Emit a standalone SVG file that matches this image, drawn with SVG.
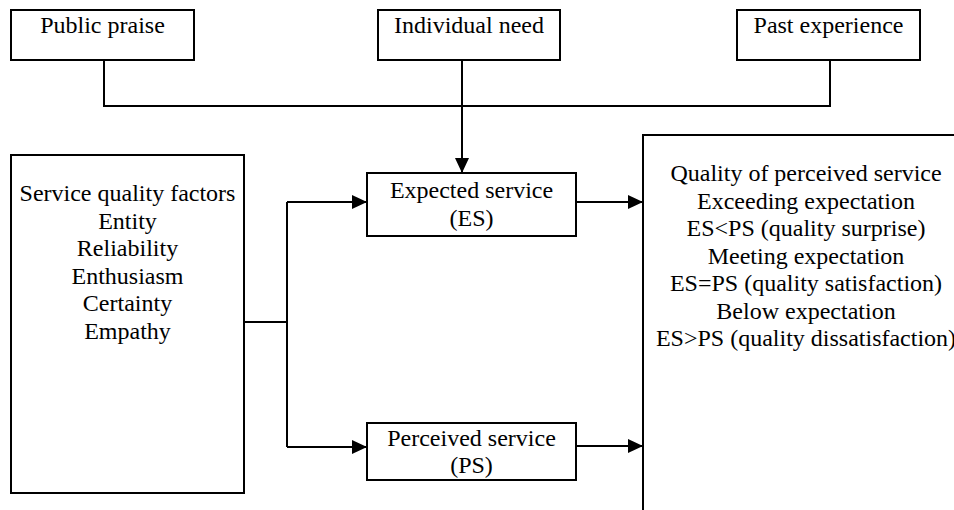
<svg xmlns="http://www.w3.org/2000/svg" width="954" height="510" viewBox="0 0 954 510">
<style>
.box{fill:#fff;stroke:#000;stroke-width:2}
.t{font-family:'Liberation Serif','DejaVu Serif',serif;font-size:24px;fill:#000;text-anchor:middle}
.c{fill:none;stroke:#000;stroke-width:2}
</style>
<defs>
<marker id="ah" markerWidth="15" markerHeight="14" refX="15" refY="7" orient="auto" markerUnits="userSpaceOnUse">
<path d="M0,0 L15,7 L0,14 Z" fill="#000"/>
</marker>
</defs>
<rect width="954" height="510" fill="#fff"/>
<g id="connectors">
<path class="c" d="M104,60 V106 H830 V60"/>
<path class="c" d="M462,60 V173" marker-end="url(#ah)"/>
<path class="c" d="M244,322 H287"/>
<path class="c" d="M287,202 V447"/>
<path class="c" d="M287,202 H367" marker-end="url(#ah)"/>
<path class="c" d="M287,447 H367" marker-end="url(#ah)"/>
<path class="c" d="M576,202 H643" marker-end="url(#ah)"/>
<path class="c" d="M576,446 H643" marker-end="url(#ah)"/>
</g>
<g font-family="Liberation Serif, serif">
<g id="public-praise">
<rect class="box" x="11" y="10" width="183" height="50"/>
<text class="t" x="102.5" y="33">Public praise</text>
</g>
<g id="individual-need">
<rect class="box" x="378" y="10" width="182" height="50"/>
<text class="t" x="469" y="33">Individual need</text>
</g>
<g id="past-experience">
<rect class="box" x="737" y="10" width="183" height="50"/>
<text class="t" x="828.5" y="33">Past experience</text>
</g>
<g id="service-quality-factors">
<rect class="box" x="11" y="155" width="233" height="338"/>
<text class="t" x="127.5" y="201">Service quality factors</text>
<text class="t" x="127.5" y="228.5">Entity</text>
<text class="t" x="127.5" y="256">Reliability</text>
<text class="t" x="127.5" y="283.5">Enthusiasm</text>
<text class="t" x="127.5" y="311">Certainty</text>
<text class="t" x="127.5" y="338.5">Empathy</text>
</g>
<g id="expected-service">
<rect class="box" x="367" y="173" width="209" height="63"/>
<text class="t" x="471.5" y="197.5">Expected service</text>
<text class="t" x="471.5" y="226">(ES)</text>
</g>
<g id="perceived-service">
<rect class="box" x="367" y="423" width="209" height="57"/>
<text class="t" x="471.5" y="445.5">Perceived service</text>
<text class="t" x="471.5" y="473">(PS)</text>
</g>
<g id="quality-of-perceived-service">
<rect class="box" x="643" y="135" width="330" height="400"/>
<text class="t" x="806" y="181">Quality of perceived service</text>
<text class="t" x="806" y="208.5">Exceeding expectation</text>
<text class="t" x="806" y="236">ES&lt;PS (quality surprise)</text>
<text class="t" x="806" y="263.5">Meeting expectation</text>
<text class="t" x="806" y="291">ES=PS (quality satisfaction)</text>
<text class="t" x="806" y="318.5">Below expectation</text>
<text class="t" x="806" y="346">ES&gt;PS (quality dissatisfaction)</text>
</g>
</g>
</svg>
